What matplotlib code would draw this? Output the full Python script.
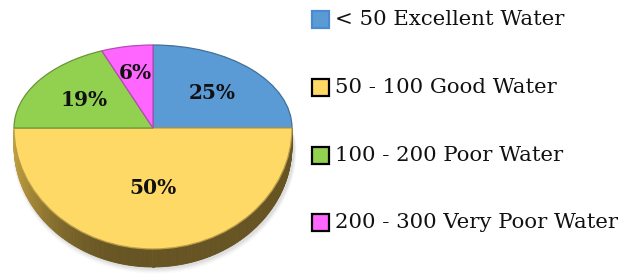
import numpy as np
import matplotlib
matplotlib.use("Agg")
import matplotlib.pyplot as plt
import matplotlib.transforms as mtransforms
from matplotlib.patches import Rectangle, Polygon
from matplotlib.colors import to_rgb

# ---- data ----
labels = ["< 50 Excellent Water", "50 - 100 Good Water",
          "100 - 200 Poor Water", "200 - 300 Very Poor Water"]
values = [25, 50, 19, 6]
colors = ["#5B9BD5", "#FFD966", "#92D050", "#FF66FF"]
legend_edges = ["#4A8AD0", "#000000", "#000000", "#000000"]


class SplitY(mtransforms.Transform):
    """Perspective-like tilt: far half squashed more than the near half."""
    input_dims = 2
    output_dims = 2
    is_separable = False
    has_inverse = False

    def __init__(self, cy, ktop, kbot):
        super().__init__()
        self.cy, self.ktop, self.kbot = cy, ktop, kbot

    def transform_non_affine(self, values):
        v = np.array(values, dtype=float).copy()
        dy = v[:, 1] - self.cy
        v[:, 1] = self.cy + np.where(dy > 0, dy * self.ktop, dy * self.kbot)
        return v


W, H = 628, 275
fig = plt.figure(figsize=(W / 100, H / 100), dpi=100)
ax = fig.add_axes([0, 0, 1, 1])

cx, cy = 153.0, H - 128.0
R = 139.0
ktop, kbot = 83.0 / R, 121.0 / R
depth = 18.0
split = SplitY(cy, ktop, kbot)

wedges, texts, autotexts = ax.pie(
    values, colors=colors, startangle=90, counterclock=False,
    radius=R, center=(cx, cy), autopct="%d%%", pctdistance=0.6,
    wedgeprops=dict(linewidth=0.9),
    textprops=dict(family="DejaVu Serif", fontweight="bold", fontsize=14.5,
                   color="#111111"))

ax.set_xlim(0, W)
ax.set_ylim(0, H)
ax.set_aspect("auto")
ax.axis("off")


def darker(c, f):
    r, g, b = to_rgb(c)
    return (r * f, g * f, b * f)


for w, c in zip(wedges, colors):
    w.set_transform(split + ax.transData)
    w.set_edgecolor(darker(c, 0.72))
    w.set_zorder(5)

# ---- shadow under the pie ----
tt = np.linspace(0, 2 * np.pi, 200)
for s, a in [(5, 0.04), (4, 0.06), (3, 0.08), (2, 0.10)]:
    xs = cx + 1.5 + (R + s * 0.6) * np.cos(tt)
    k = np.where(np.sin(tt) > 0, ktop, kbot)
    ys = cy - depth - s * 0.8 + (R + s * 0.6) * k * np.sin(tt)
    ax.add_patch(Polygon(np.column_stack([xs, ys]), closed=True,
                         facecolor="#808080", edgecolor="none", alpha=a,
                         zorder=1))

# ---- side band of the pie (visible front half) ----
for w, c in zip(wedges, colors):
    th = np.linspace(w.theta1, w.theta2, 240)
    base = np.array(to_rgb(c))
    for a0, a1 in zip(th[:-1], th[1:]):
        if np.sin(np.radians(a0)) > 1e-9 or np.sin(np.radians(a1)) > 1e-9:
            continue
        am = np.radians((a0 + a1) / 2)
        f = 0.40 + 0.36 * max(0.0, -np.cos(am)) ** 3
        col = np.clip(base * f * np.array([1.0, 0.97, 0.85]), 0, 1)
        r0, r1 = np.radians(a0), np.radians(a1)
        x0, x1 = cx + R * np.cos(r0), cx + R * np.cos(r1)
        y0, y1 = cy + R * kbot * np.sin(r0), cy + R * kbot * np.sin(r1)
        poly = [(x0, y0), (x1, y1), (x1, y1 - depth), (x0, y0 - depth)]
        ax.add_patch(Polygon(poly, closed=True, facecolor=col,
                             edgecolor=col, linewidth=0.6, zorder=2))

# ---- percentage labels ----
label_dist = [0.6, 0.5, 0.6, 0.67]
for w, t, d in zip(wedges, autotexts, label_dist):
    am = np.radians((w.theta1 + w.theta2) / 2)
    t.set_position((cx + R * d * np.cos(am), cy + R * d * np.sin(am)))
    t.set_transform(split + ax.transData)
    t.set_zorder(6)
    t.set_ha("center")
    t.set_va("center")

# ---- legend ----
row_y = [19.5, 87.5, 155.5, 222.5]
sq = 17
for lab, c, ec, yy in zip(labels, colors, legend_edges, row_y):
    ax.add_patch(Rectangle((312, H - yy - sq / 2), sq, sq, facecolor=c,
                           edgecolor=ec, linewidth=1.6, zorder=5))
    ax.text(335, H - yy, lab, family="DejaVu Serif", fontsize=15.3,
            color="#111111", ha="left", va="center", zorder=5)

fig.savefig("out.png", dpi=100)
